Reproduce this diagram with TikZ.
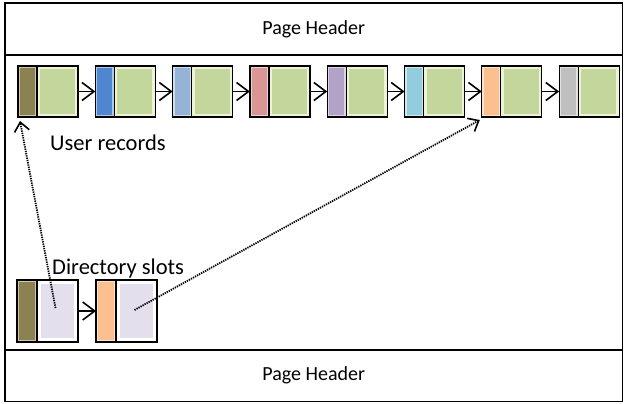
\documentclass[tikz,border=0pt]{standalone}
\usepackage{fontspec}
\setmainfont{Carlito}
\usetikzlibrary{arrows.meta,calc}
\definecolor{olive}{HTML}{8C8150}
\definecolor{cblue}{HTML}{4F86CF}
\definecolor{lblue}{HTML}{95B3D7}
\definecolor{pinkc}{HTML}{D99694}
\definecolor{purp}{HTML}{B3A2C7}
\definecolor{cyanc}{HTML}{93CDDD}
\definecolor{orng}{HTML}{FAC090}
\definecolor{grayc}{HTML}{BFBFBF}
\definecolor{grn}{HTML}{C3D69B}
\definecolor{grnedge}{HTML}{EEF3D8}
\definecolor{lav}{HTML}{E4DFEC}
\begin{document}
\begin{tikzpicture}[x=1pt,y=-1pt,
  part/.style={draw=black, line width=1.2pt, inner sep=0pt, outer sep=0pt, anchor=north west},
  cp/.style={part, minimum width=19pt, minimum height=51pt, fill=#1!45!white,
    path picture={\fill[#1] ([shift={(2pt,-2pt)}]path picture bounding box.north west) rectangle ([shift={(-2pt,2pt)}]path picture bounding box.south east);}},
  gp/.style={part, minimum width=41pt, minimum height=51pt, fill=grnedge,
    path picture={\fill[grn] ([shift={(3pt,-3pt)}]path picture bounding box.north west) rectangle ([shift={(-3pt,3pt)}]path picture bounding box.south east);}},
  dcp/.style={cp=#1, minimum width=20pt, minimum height=62pt},
  dgp/.style={part, minimum width=41pt, minimum height=62pt, fill=white,
    path picture={\fill[lav] ([shift={(4pt,-4pt)}]path picture bounding box.north west) rectangle ([shift={(-4pt,4pt)}]path picture bounding box.south east);}},
  link/.style={-{Straight Barb[length=12pt,width=18pt,line width=1.6pt]}, line width=1.6pt},
  ptr/.style={-{Straight Barb[length=9pt,width=15pt,line width=1.6pt]}, line width=1.8pt, dash pattern=on 1.3pt off 1pt},
  hdr/.style={draw=black, line width=1.3pt, inner sep=0pt, outer sep=0pt, anchor=north west, font=\fontsize{20}{22}\selectfont},
  lbl/.style={anchor=west, inner sep=0pt, font=\fontsize{22.5}{24}\selectfont}
]
\useasboundingbox (0,0) rectangle (624,404);
\draw[line width=1.3pt] (5,3) rectangle (622.5,401.5);
\node[hdr, minimum width=617.5pt, minimum height=52pt] (top) at (5,3) {Page Header};
\node[hdr, minimum width=617.5pt, minimum height=51.5pt] (bot) at (5,350) {Page Header};

\foreach \i/\c in {0/olive,1/cblue,2/lblue,3/pinkc,4/purp,5/cyanc,6/orng,7/grayc}{
  \node[cp=\c] (r\i c) at ({18+77.3*\i},66) {};
  \node[gp] (r\i g) at (r\i c.north east) {};
}
\foreach \i [evaluate=\i as \j using int(\i+1)] in {0,...,6}{
  \draw[link] (r\i g.east) -- (r\j c.west);
}
\node[lbl] (ur) at (50,143) {User records};

\node[dcp=olive] (d0c) at (17,280) {};
\node[dgp] (d0g) at (d0c.north east) {};
\node[dcp=orng] (d1c) at (96,280) {};
\node[dgp] (d1g) at (d1c.north east) {};
\draw[link] (d0g.east) -- (d1c.west);
\node[lbl] (ds) at (52,268) {Directory slots};

\coordinate (t0) at ([shift={(2pt,-4pt)}]r0c.south west);
\coordinate (t6) at ([shift={(-2pt,-3pt)}]r6c.south west);
\coordinate (s0) at ([shift={(-2pt,3pt)}]d0g.center);
\coordinate (s1) at ([shift={(-2pt,1pt)}]d1g.center);
\draw[ptr] (s0) -- (t0);
\draw[ptr] (s1) -- (t6);
\end{tikzpicture}
\end{document}
